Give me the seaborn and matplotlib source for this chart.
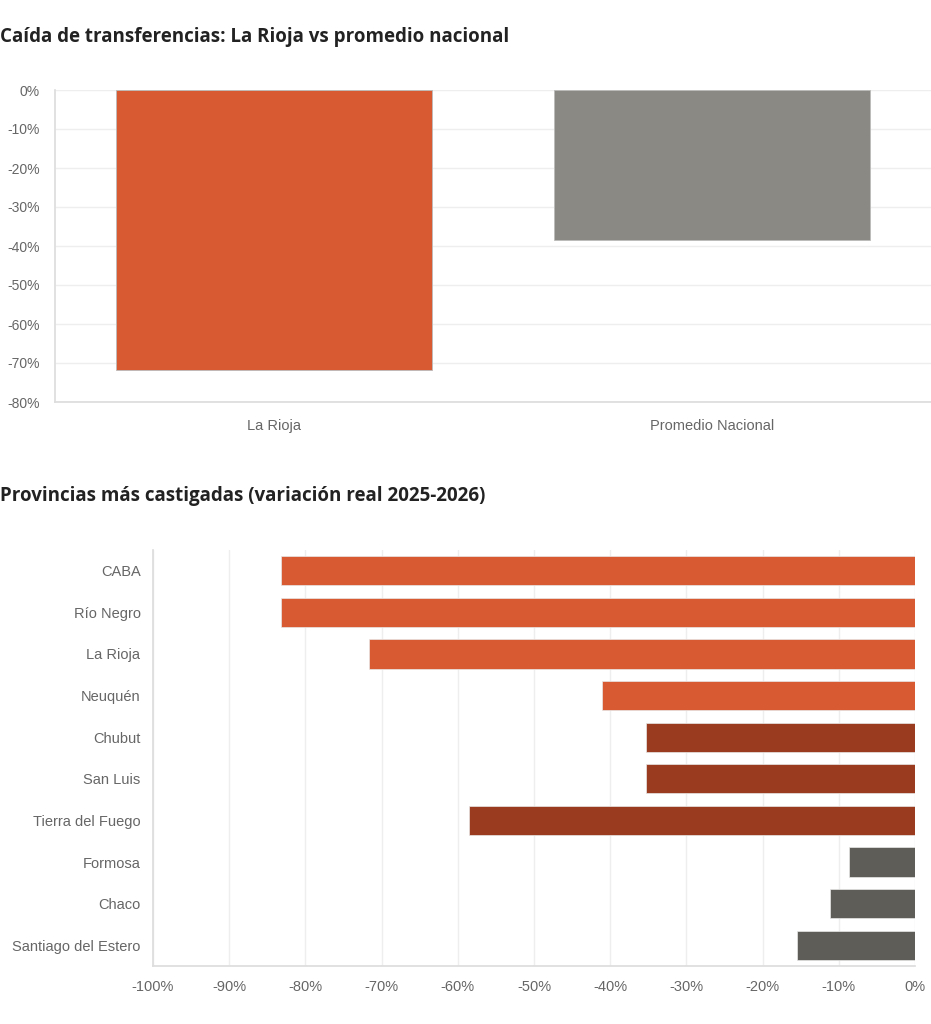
import matplotlib
matplotlib.use("Agg")
import matplotlib.pyplot as plt
import seaborn as sns
import pandas as pd
from matplotlib.ticker import FuncFormatter, MultipleLocator

# top chart data
comp_labels = ["La Rioja", "Promedio Nacional"]
comp_values = [-71.8, -38.5]
comp_colors = ["#D85A32", "#8A8983"]

# bottom chart data
provincias = ["CABA", "Río Negro", "La Rioja", "Neuquén", "Chubut", "San Luis",
              "Tierra del Fuego", "Formosa", "Chaco", "Santiago del Estero"]
variacion = [-83.2, -83.2, -71.7, -41.1, -35.3, -35.3, -58.5, -8.7, -11.2, -15.5]
prov_colors = ["#D85A32"] * 4 + ["#9A3A1E"] * 3 + ["#5E5D58"] * 3

sns.set_theme(style="white")
plt.rcParams["font.family"] = ["Liberation Sans", "DejaVu Sans"]

tick_color = "#666666"
grid_color = "#EEEEEE"
spine_color = "#DDDDDD"
pct = FuncFormatter(lambda v, p: f"{v:.0f}%")

fig = plt.figure(figsize=(9.31, 10.24), dpi=100)

# ---- top chart
ax1 = fig.add_axes([55 / 931, 1 - 402 / 1024, 1 - 55 / 931, (402 - 90) / 1024])
df1 = pd.DataFrame({"cat": comp_labels, "val": comp_values})
sns.barplot(data=df1, x="cat", y="val", hue="cat", palette=comp_colors,
            saturation=1, width=0.72, legend=False, ax=ax1,
            edgecolor="#BBBBBB", linewidth=0.6)
ax1.set_ylim(-80, 0)
ax1.yaxis.set_major_locator(MultipleLocator(10))
ax1.yaxis.set_major_formatter(pct)
ax1.set_xlabel("")
ax1.set_ylabel("")
ax1.grid(axis="y", color=grid_color, linewidth=1)
ax1.set_axisbelow(True)
for s in ["top", "right"]:
    ax1.spines[s].set_visible(False)
for s in ["left", "bottom"]:
    ax1.spines[s].set_color(spine_color)
ax1.tick_params(axis="both", colors=tick_color, labelsize=10, length=0)
ax1.tick_params(axis="y", pad=11)
ax1.tick_params(axis="x", labelsize=10.5, pad=12)

fig.text(0.0, 1 - 37 / 1024, "Caída de transferencias: La Rioja vs promedio nacional",
         fontsize=13.5, fontweight="bold", family=["Open Sans", "DejaVu Sans"],
         color="#222222", va="center", ha="left")

# ---- bottom chart
ax2 = fig.add_axes([153 / 931, 1 - 966 / 1024, (915 - 153) / 931, (966 - 550) / 1024])
df2 = pd.DataFrame({"prov": provincias, "val": variacion})
sns.barplot(data=df2, y="prov", x="val", hue="prov", palette=prov_colors,
            saturation=1, width=0.7, legend=False, orient="h", ax=ax2,
            edgecolor="#E8E8E8", linewidth=0.5)
ax2.set_xlim(-100, 0)
ax2.xaxis.set_major_locator(MultipleLocator(10))
ax2.xaxis.set_major_formatter(pct)
ax2.set_xlabel("")
ax2.set_ylabel("")
ax2.grid(axis="x", color=grid_color, linewidth=1)
ax2.set_axisbelow(True)
for s in ["top", "right"]:
    ax2.spines[s].set_visible(False)
for s in ["left", "bottom"]:
    ax2.spines[s].set_color(spine_color)
ax2.tick_params(axis="both", colors=tick_color, labelsize=10.5, length=0)
ax2.tick_params(axis="y", pad=9)
ax2.tick_params(axis="x", pad=10)

fig.text(0.0, 1 - 496 / 1024, "Provincias más castigadas (variación real 2025-2026)",
         fontsize=13.5, fontweight="bold", family=["Open Sans", "DejaVu Sans"],
         color="#222222", va="center", ha="left")

fig.savefig("out.png", dpi=100, facecolor="white")
